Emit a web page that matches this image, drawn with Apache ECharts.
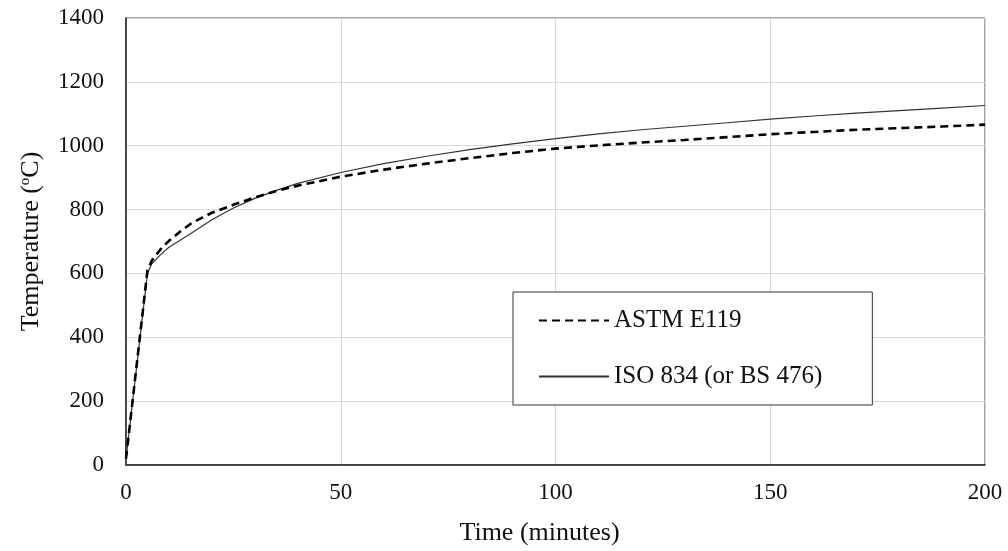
<!DOCTYPE html>
<html>
<head>
<meta charset="utf-8">
<script src="https://cdn.jsdelivr.net/npm/echarts@6/dist/echarts.min.js"></script>
<style>html,body{margin:0;padding:0;background:#fff}#c{width:1008px;height:551px}</style>
</head>
<body>
<div id="c"></div>
<script>
var times = [0, 5, 6, 8, 10, 12.5, 15, 17.5, 20, 25, 30, 35, 40, 50, 60, 70, 80, 90, 100, 110, 120, 130, 140, 150, 160, 170, 180, 190, 200];
var astm  = [20, 610, 640, 675, 702, 730, 755, 773, 790, 815, 838, 858, 875, 903, 925, 944, 961, 977, 991, 1001, 1010, 1018, 1027, 1036, 1043, 1050, 1055, 1060, 1066];
var iso   = [20, 600, 630, 658, 682, 703, 724, 746, 768, 805, 835, 860, 882, 916, 944, 967, 988, 1006, 1022, 1037, 1050, 1061, 1072, 1083, 1093, 1102, 1110, 1118, 1126];
var xTicks = [0, 50, 100, 150, 200];
var yTicks = [0, 200, 400, 600, 800, 1000, 1200, 1400];
var seriesNames = ['ASTM E119', 'ISO 834 (or BS 476)'];

function pairs(xs, ys){ return xs.map(function(x,i){ return [x, ys[i]]; }); }

var font = 'Liberation Serif, Times New Roman, serif';
var chart = echarts.init(document.getElementById('c'));
chart.setOption({
  animation: false,
  backgroundColor: '#fff',
  grid: {left: 126, right: 23, top: 18, bottom: 85, show: true, borderColor: '#444', borderWidth: 1},
  xAxis: {
    type: 'value', min: xTicks[0], max: xTicks[xTicks.length-1], interval: 50,
    name: 'Time (minutes)', nameLocation: 'middle', nameGap: 55,
    nameTextStyle: {fontFamily: font, fontSize: 26, color: '#111', padding: [0, 32, 0, 0]},
    axisLine: {show: true, onZero: false, lineStyle: {color: '#222', width: 1.5}},
    axisTick: {show: false},
    axisLabel: {fontFamily: font, fontSize: 23, color: '#111', margin: 16, formatter: function(v){ return String(v); }},
    splitLine: {show: true, lineStyle: {color: '#d9d9d9', width: 1}}
  },
  yAxis: {
    type: 'value', min: yTicks[0], max: yTicks[yTicks.length-1], interval: 200,
    name: '{a|Temperature (}{s|o}{a|C)}', nameLocation: 'middle', nameGap: 82, nameRotate: 90,
    nameTextStyle: {
      fontFamily: font, fontSize: 26, color: '#111',
      rich: {
        a: {fontFamily: font, fontSize: 26, color: '#111'},
        s: {fontFamily: font, fontSize: 15, color: '#111', verticalAlign: 'top', padding: [0,0,11,0]}
      }
    },
    axisLine: {show: true, onZero: false, lineStyle: {color: '#222', width: 1.5}},
    axisTick: {show: false},
    axisLabel: {fontFamily: font, fontSize: 23, color: '#111', margin: 22, formatter: function(v){ return String(v); }},
    splitLine: {show: true, lineStyle: {color: '#d9d9d9', width: 1}}
  },
  legend: {
    show: true, orient: 'vertical', left: 513, top: 292,
    padding: [16, 50, 16, 25], itemGap: 31, itemWidth: 70, itemHeight: 24,
    borderColor: '#333', borderWidth: 1, backgroundColor: '#fff',
    itemStyle: {opacity: 0},
    textStyle: {fontFamily: font, fontSize: 25, color: '#111'},
    data: seriesNames
  },
  series: [
    {
      name: seriesNames[0], type: 'line', data: pairs(times, astm),
      symbol: 'none', smooth: false, z: 3,
      lineStyle: {color: '#000', width: 2.6, type: [8, 5]},
      itemStyle: {color: '#000'}
    },
    {
      name: seriesNames[1], type: 'line', data: pairs(times, iso),
      symbol: 'none', smooth: false, z: 2,
      lineStyle: {color: '#333', width: 1.2, type: 'solid'},
      itemStyle: {color: '#333'}
    }
  ]
});
</script>
</body>
</html>
